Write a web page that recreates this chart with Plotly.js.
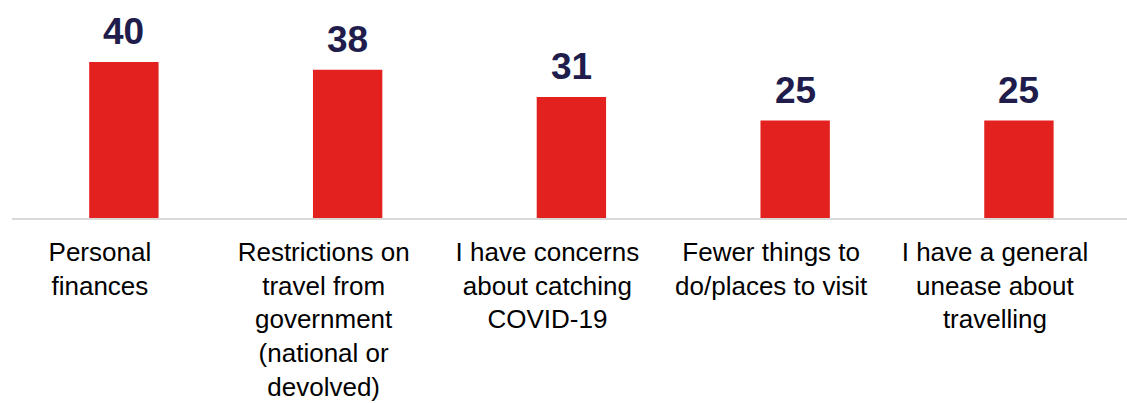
<!DOCTYPE html>
<html>
<head>
<meta charset="utf-8">
<script src="https://cdn.plot.ly/plotly-3.0.1.min.js"></script>
<style>html,body{margin:0;padding:0;background:#fff;}#chart{width:1127px;height:403px;}</style>
</head>
<body>
<div id="chart"></div>
<script>
const categories = [
  "Personal<br>finances",
  "Restrictions on<br>travel from<br>government<br>(national or<br>devolved)",
  "I have concerns<br>about catching<br>COVID-19",
  "Fewer things to<br>do/places to visit",
  "I have a general<br>unease about<br>travelling"
];
const values = [40, 38, 31, 25, 25];

const FONT = "Liberation Sans, Arial, sans-serif";

const trace = {
  type: "bar",
  x: categories,
  y: values,
  width: 0.31,
  marker: {color: "#E3211E"},
  hoverinfo: "skip"
};

const annotations = categories.map((c, i) => ({
  x: c, y: values[i], xref: "x", yref: "y",
  text: "<b>" + values[i] + "</b>",
  showarrow: false, yanchor: "bottom", yshift: 8,
  font: {family: FONT, size: 37, color: "#201C4B"}
}));

const layout = {
  width: 1127, height: 403,
  margin: {l: 12, r: 0, t: 0, b: 185, pad: 0},
  paper_bgcolor: "#ffffff", plot_bgcolor: "#ffffff",
  showlegend: false,
  xaxis: {
    type: "category",
    range: [-0.5, 4.483],
    showline: true, linecolor: "#D9D9D9", linewidth: 1.5,
    ticks: "", showgrid: false, zeroline: false,
    tickfont: {family: FONT, size: 26, color: "#000000"},
    ticklabelshift: -24,
    ticklabelstandoff: 10,
    automargin: false
  },
  yaxis: {
    range: [0, 55.9],
    visible: false, showgrid: false, zeroline: false, fixedrange: true
  },
  annotations: annotations
};

Plotly.newPlot("chart", [trace], layout, {displayModeBar: false, staticPlot: true});
</script>
</body>
</html>
